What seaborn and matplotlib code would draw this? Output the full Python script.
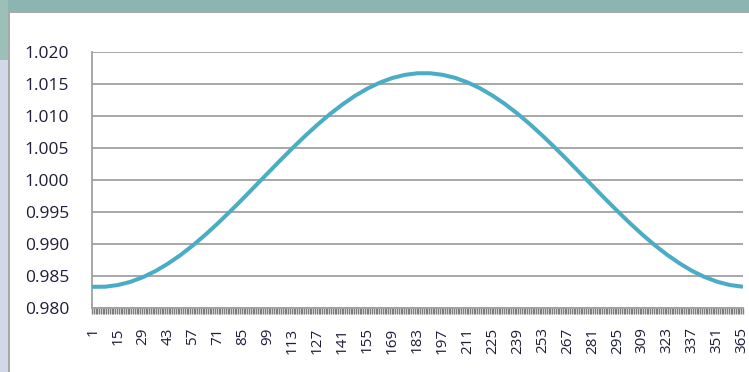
import numpy as np
import pandas as pd
import matplotlib
matplotlib.use("Agg")
import matplotlib.pyplot as plt
import seaborn as sns
from matplotlib.patches import Rectangle

# Earth-Sun distance (AU), read weekly through the year
days = [1, 8, 15, 22, 29, 36, 43, 50, 57, 64, 71, 78, 85, 92, 99, 106, 113,
        120, 127, 134, 141, 148, 155, 162, 169, 176, 183, 190, 197, 204, 211,
        218, 225, 232, 239, 246, 253, 260, 267, 274, 281, 288, 295, 302, 309,
        316, 323, 330, 337, 344, 351, 358, 365]
distance = [0.98331, 0.98333, 0.98359, 0.98408, 0.98481, 0.98576, 0.98691,
            0.98825, 0.98977, 0.99143, 0.99322, 0.99510, 0.99705, 0.99905,
            1.00106, 1.00305, 1.00501, 1.00689, 1.00866, 1.01032, 1.01182,
            1.01316, 1.01430, 1.01523, 1.01595, 1.01643, 1.01668, 1.01668,
            1.01644, 1.01597, 1.01526, 1.01434, 1.01320, 1.01188, 1.01038,
            1.00873, 1.00695, 1.00507, 1.00313, 1.00113, 0.99912, 0.99712,
            0.99517, 0.99328, 0.99149, 0.98982, 0.98831, 0.98696, 0.98579,
            0.98484, 0.98411, 0.98360, 0.98334]
label_days = list(range(1, 366, 14))
y_ticks = [0.980, 0.985, 0.990, 0.995, 1.000, 1.005, 1.010, 1.015, 1.020]
n_days = 365

df = pd.DataFrame({"day": days, "distance": distance})

sns.set_style("white")
plt.rcParams["font.family"] = ["Open Sans", "DejaVu Sans"]

W, H = 749, 372
fig = plt.figure(figsize=(W / 100, H / 100), dpi=100)
fig.patch.set_facecolor("white")

# window frame around the chart
fig.add_artist(Rectangle((0, (H - 11) / H), 1, 11 / H, transform=fig.transFigure,
                         facecolor="#8cb4b0", edgecolor="none", zorder=0))
fig.add_artist(Rectangle((0, 0), 8 / W, 1, transform=fig.transFigure,
                         facecolor="#d3d8e6", edgecolor="none", zorder=0))
fig.add_artist(Rectangle((0, (H - 60) / H), 8 / W, 60 / H, transform=fig.transFigure,
                         facecolor="#9cbfb8", edgecolor="none", zorder=0))
fig.add_artist(Rectangle((8 / W, 0), 2 / W, (H - 11) / H, transform=fig.transFigure,
                         facecolor="#a8a8a8", edgecolor="none", zorder=1))
fig.add_artist(Rectangle((8 / W, (H - 13) / H), 1 - 8 / W, 2 / H, transform=fig.transFigure,
                         facecolor="#a8a8a8", edgecolor="none", zorder=1))

ax = fig.add_axes([92 / W, (H - 308) / H, (743 - 92) / W, (308 - 52) / H])
ax.set_facecolor("none")

sns.lineplot(data=df, x="day", y="distance", ax=ax, color="#4bacc6",
             linewidth=2.9, zorder=3)

ax.set_xlim(0.5, n_days + 0.5)
ax.set_ylim(y_ticks[0], y_ticks[-1])
ax.set_yticks(y_ticks)
ax.set_yticklabels([f"{v:.3f}" for v in y_ticks])
ax.set_xticks(label_days)
ax.set_xticklabels([str(d) for d in label_days], rotation=90)
ax.set_xticks(np.arange(0.5, n_days + 1, 1.0), minor=True)
ax.set_xlabel("")
ax.set_ylabel("")

ax.grid(axis="y", color="#a0a0a0", linewidth=1.3)
ax.set_axisbelow(True)
for side in ("top", "right"):
    ax.spines[side].set_visible(False)
for side in ("left", "bottom"):
    ax.spines[side].set_color("#a0a0a0")
    ax.spines[side].set_linewidth(1.3)

ax.tick_params(axis="y", which="major", length=5, width=1.3, color="#a0a0a0",
               labelsize=12.5, labelcolor="#1e1e3a", pad=11.5)
ax.tick_params(axis="x", which="major", length=0, labelsize=11,
               labelcolor="#1e1e3a", pad=14)
ax.tick_params(axis="x", which="minor", length=4.5, width=1.0, color="#7c7c7c",
               direction="out", bottom=True)

fig.savefig("out.png", dpi=100)
